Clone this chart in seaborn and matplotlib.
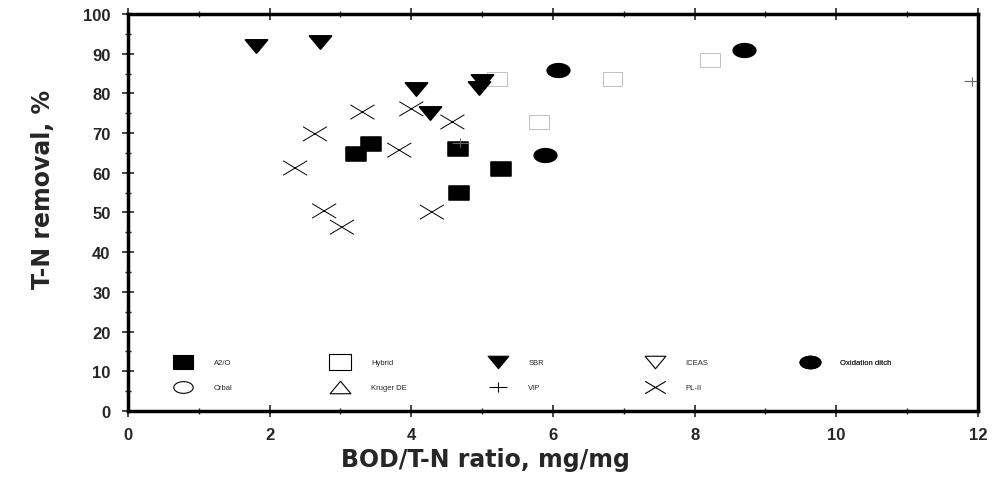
import numpy as np
import matplotlib
matplotlib.use("Agg")
import matplotlib.pyplot as plt
from matplotlib.path import Path
from matplotlib.lines import Line2D
import seaborn as sns

# values (BOD/T-N ratio vs T-N removal %)
a2o_x = [3.22, 3.43, 4.66, 4.68, 5.27]
a2o_y = [64.7, 67.3, 66.0, 54.9, 61.0]

hybrid_x = [5.21, 5.80, 6.84, 8.22]
hybrid_y = [83.6, 72.8, 83.6, 88.4]

sbr_x = [1.81, 2.71, 4.07, 4.27, 4.96, 5.00]
sbr_y = [92.0, 93.0, 81.0, 75.0, 81.4, 83.2]

ox_x = [5.89, 6.07, 8.70]
ox_y = [64.5, 85.9, 90.9]

vip_x = [4.69, 11.92]
vip_y = [67.6, 83.0]

pl2_x = [2.36, 2.64, 2.77, 3.02, 3.31, 3.83, 4.00, 4.29, 4.58]
pl2_y = [61.2, 69.8, 50.4, 46.3, 75.3, 65.7, 76.1, 50.1, 72.8]

x_ticks = [0, 2, 4, 6, 8, 10, 12]
y_ticks = [0, 10, 20, 30, 40, 50, 60, 70, 80, 90, 100]

# legend layout, two rows of up to five entries
legend_rows = [["A2/O", "Hybrid", "SBR", "ICEAS", "Oxidation ditch"],
               ["Orbal", "Kruger DE", "VIP", "PL-II"]]

# wide, flat marker shapes like the original
rect = Path([(-1, -0.7), (1, -0.7), (1, 0.7), (-1, 0.7), (-1, -0.7)], closed=True)
t = np.linspace(0, 2 * np.pi, 60)
ellipse = Path(np.column_stack([np.cos(t), 0.6 * np.sin(t)]), closed=True)
tri_down = Path([(-1, 0.6), (1, 0.6), (0, -0.6), (-1, 0.6)], closed=True)
tri_up = Path([(-1, -0.6), (1, -0.6), (0, 0.6), (-1, -0.6)], closed=True)
cross = Path([(-1, -0.6), (1, 0.6), (-1, 0.6), (1, -0.6)],
             [Path.MOVETO, Path.LINETO, Path.MOVETO, Path.LINETO])
plus = Path([(-1, 0), (1, 0), (0, -0.5), (0, 0.5)],
            [Path.MOVETO, Path.LINETO, Path.MOVETO, Path.LINETO])

sns.set_style("white")
plt.rcParams['font.family'] = ['Liberation Sans', 'DejaVu Sans']

fig = plt.figure(figsize=(9.95, 4.81), dpi=100)
ax = fig.add_axes([0.1286, 0.1435, 0.8543, 0.8253])

sns.scatterplot(x=a2o_x, y=a2o_y, marker=rect, s=200, color='black', edgecolor='black', ax=ax)
sns.scatterplot(x=hybrid_x, y=hybrid_y, marker=rect, s=200, facecolor='none',
                edgecolor='#b5b5b5', linewidth=0.6, ax=ax)
sns.scatterplot(x=sbr_x, y=sbr_y, marker=tri_down, s=250, color='black', edgecolor='black', ax=ax)
sns.scatterplot(x=ox_x, y=ox_y, marker=ellipse, s=260, color='black', edgecolor='black', ax=ax)
sns.scatterplot(x=vip_x, y=vip_y, marker=plus, s=150, facecolor='none',
                edgecolor='#666666', linewidth=0.8, ax=ax)
sns.scatterplot(x=pl2_x, y=pl2_y, marker=cross, s=300, facecolor='none',
                edgecolor='black', linewidth=0.7, ax=ax)

ax.set_xlim(0, 12)
ax.set_ylim(0, 100)
ax.set_xticks(x_ticks)
ax.set_yticks(y_ticks)
ax.set_xticks(np.arange(1, 12, 2), minor=True)
ax.set_yticks(np.arange(5, 100, 10), minor=True)
ax.tick_params(which='major', direction='inout', length=9, width=1.2, labelsize=12)
ax.tick_params(which='minor', direction='inout', length=5, width=1)
ax.tick_params(axis='x', which='both', bottom=True, top=True, pad=7)
ax.tick_params(axis='y', which='both', left=True, right=False, pad=8)
for lab in ax.get_xticklabels() + ax.get_yticklabels():
    lab.set_fontweight('bold')
for sp in ax.spines.values():
    sp.set_linewidth(2.5)
    sp.set_color('black')

ax.set_xlabel('BOD/T-N ratio, mg/mg', fontsize=17, fontweight='bold', family='DejaVu Sans')
ax.set_ylabel('T-N removal, %', fontsize=17, fontweight='bold', family='DejaVu Sans')
ax.xaxis.set_label_coords(0.42, -0.09)
ax.yaxis.set_label_coords(-0.086, 0.56)

styles = {
    "A2/O": dict(marker=rect, fill=True, ms=14),
    "Hybrid": dict(marker=rect, fill=False, ms=16),
    "SBR": dict(marker=tri_down, fill=True, ms=15),
    "ICEAS": dict(marker=tri_down, fill=False, ms=15),
    "Oxidation ditch": dict(marker=ellipse, fill=True, ms=15),
    "Orbal": dict(marker=ellipse, fill=False, ms=14),
    "Kruger DE": dict(marker=tri_up, fill=False, ms=15),
    "VIP": dict(marker=plus, fill=False, ms=13),
    "PL-II": dict(marker=cross, fill=False, ms=15),
}

def handle(label):
    st = styles[label]
    return Line2D([], [], linestyle='none', marker=st['marker'], markersize=st['ms'],
                  markerfacecolor='black' if st['fill'] else 'none',
                  markeredgecolor='black', markeredgewidth=0.8, label=label)

# one small legend per column so the columns sit at even spacing
col_x = [0.056, 0.241, 0.426, 0.611, 0.793]
fs = 5.5
for i, xc in enumerate(col_x):
    labels = [row[i] for row in legend_rows if i < len(row)]
    leg = ax.legend(handles=[handle(l) for l in labels], loc='upper left',
                    bbox_to_anchor=(xc, 0.131), frameon=False, fontsize=fs,
                    handlelength=2.0, handletextpad=3.0, labelspacing=2.3,
                    borderpad=0, borderaxespad=0)
    ax.add_artist(leg)

plt.savefig('out.png', dpi=100)
plt.close()
